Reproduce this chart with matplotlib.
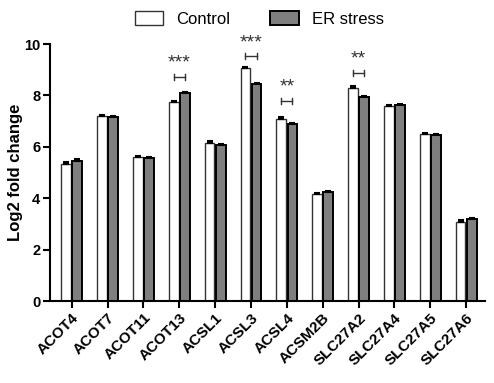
import numpy as np
import matplotlib
matplotlib.use("Agg")
import matplotlib.pyplot as plt

plt.rcParams['font.family'] = ['Liberation Sans', 'DejaVu Sans']

genes = ['ACOT4', 'ACOT7', 'ACOT11', 'ACOT13', 'ACSL1', 'ACSL3', 'ACSL4',
         'ACSM2B', 'SLC27A2', 'SLC27A4', 'SLC27A5', 'SLC27A6']
control = [5.35, 7.20, 5.60, 7.75, 6.15, 9.05, 7.10, 4.15, 8.30, 7.60, 6.50, 3.07]
control_err = [0.06, 0.05, 0.05, 0.05, 0.07, 0.06, 0.08, 0.05, 0.08, 0.04, 0.05, 0.09]
er_stress = [5.45, 7.15, 5.55, 8.08, 6.08, 8.45, 6.88, 4.25, 7.93, 7.62, 6.47, 3.18]
er_err = [0.06, 0.04, 0.04, 0.04, 0.04, 0.05, 0.05, 0.05, 0.05, 0.04, 0.04, 0.04]

# significance marks: gene index, bracket height, label
sig_idx = [3, 5, 6, 8]
sig_y = [8.72, 9.53, 7.78, 8.87]
sig_lab = ['***', '***', '**', '**']

fig = plt.figure(figsize=(4.94, 3.83), dpi=100)
ax = fig.add_axes([0.101, 0.214, 0.881, 0.671])

x = np.arange(len(genes))
w = 0.27
off = 0.155
ax.bar(x - off, control, w, yerr=[np.zeros(len(x)), control_err],
       color='white', edgecolor='#333333', linewidth=1.0,
       error_kw=dict(ecolor='black', elinewidth=1.5, capsize=2.5, capthick=1.5),
       label='Control')
ax.bar(x + off, er_stress, w, yerr=[np.zeros(len(x)), er_err],
       color='#7f7f7f', edgecolor='black', linewidth=1.4,
       error_kw=dict(ecolor='black', elinewidth=1.5, capsize=2.5, capthick=1.5),
       label='ER stress')

for i, yb, lab in zip(sig_idx, sig_y, sig_lab):
    ax.plot([i - off, i + off], [yb, yb], color='#333333', lw=1.0, clip_on=False)
    ax.plot([i - off, i - off], [yb - 0.12, yb + 0.12], color='#333333', lw=1.0, clip_on=False)
    ax.plot([i + off, i + off], [yb - 0.12, yb + 0.12], color='#333333', lw=1.0, clip_on=False)
    ax.text(i, yb + 0.2, lab, ha='center', va='bottom', fontsize=14,
            color='#333333', clip_on=False)

ax.set_xlim(-0.61, 11.53)
ax.set_ylim(0, 10)
ax.set_yticks([0, 2, 4, 6, 8, 10])
ax.set_xticks(x)
ax.set_xticklabels(genes, rotation=45, ha='right', rotation_mode='anchor',
                   fontsize=11, fontweight='bold')
for t in ax.get_yticklabels():
    t.set_fontweight('bold')
    t.set_fontsize(10.5)
ax.tick_params(axis='both', direction='out', width=1.5, length=5, pad=2)
ax.spines['top'].set_visible(False)
ax.spines['right'].set_visible(False)
ax.spines['left'].set_linewidth(1.5)
ax.spines['bottom'].set_linewidth(1.5)
ax.set_ylabel('Log2 fold change', fontsize=12, fontweight='bold', labelpad=1)

fig.legend(loc='upper center', bbox_to_anchor=(0.525, 1.01), ncol=2, frameon=False,
           fontsize=12, handlelength=1.7, handleheight=0.9, columnspacing=2.4)

fig.savefig('out.png', dpi=100)
